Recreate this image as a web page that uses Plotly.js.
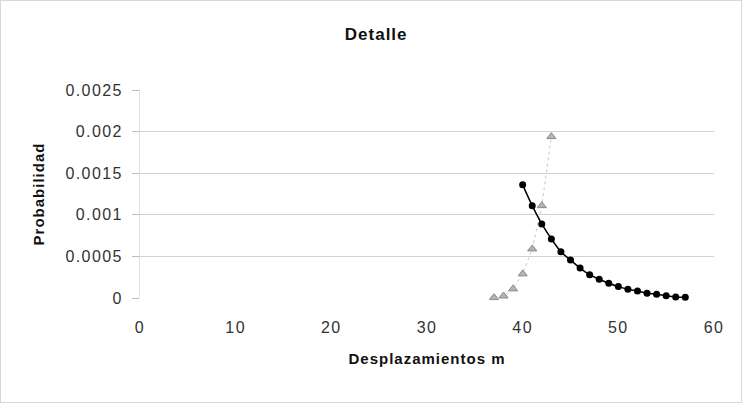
<!DOCTYPE html>
<html>
<head>
<meta charset="utf-8">
<script src="https://cdn.plot.ly/plotly-3.0.1.min.js"></script>
<style>
html,body{margin:0;padding:0;background:#fff;}
#chart{width:740px;height:401px;border:1px solid #d8d8d8;}
.xtick text, .ytick text{letter-spacing:1.4px;}
.gtitle, .xtitle, .ytitle{letter-spacing:1px;}
</style>
</head>
<body>
<div id="chart"></div>
<script>
// Triangle series (rising)
const triX = [37, 38, 39, 40, 41, 42, 43];
const triY = [0.000005, 0.000024, 0.00011, 0.00029, 0.00059, 0.00111, 0.00194];

// Circle series (decaying)
const circX = [40, 41, 42, 43, 44, 45, 46, 47, 48, 49, 50, 51, 52, 53, 54, 55, 56, 57];
const circY = [0.00136, 0.00111, 0.00089, 0.00071, 0.000556, 0.000456, 0.00036, 0.00028, 0.000226,
               0.000178, 0.000137, 0.000105, 0.000085, 0.000058, 0.000045, 0.000026, 0.000012, 0.000008];

const yTickVals = [0, 0.0005, 0.001, 0.0015, 0.002, 0.0025];
const yTickText = ["0", "0.0005", "0.001", "0.0015", "0.002", "0.0025"];
const xTickVals = [0, 10, 20, 30, 40, 50, 60];

const traces = [
  {
    x: triX, y: triY, type: 'scatter', mode: 'lines+markers',
    line: {color: '#c8c8c8', width: 1, dash: 'dot'},
    marker: {symbol: 'triangle-up', size: 8, color: '#b4b4b4', line: {color: '#8a8a8a', width: 1}},
    cliponaxis: false, showlegend: false
  },
  {
    x: circX, y: circY, type: 'scatter', mode: 'lines+markers',
    line: {color: '#000', width: 1.5, shape: 'spline'},
    marker: {symbol: 'circle', size: 7, color: '#000'},
    cliponaxis: false, showlegend: false
  }
];

const layout = {
  width: 740, height: 401,
  margin: {l: 139, r: 27, t: 89, b: 104},
  paper_bgcolor: '#fff', plot_bgcolor: '#fff',
  font: {family: 'Arial, Liberation Sans, sans-serif', color: '#222', size: 15},
  title: {text: '<b>Detalle</b>', x: 0.507, xanchor: 'center', y: 0.918, yanchor: 'middle',
          font: {size: 17, color: '#111'}},
  xaxis: {
    range: [0, 60], tickvals: xTickVals, showgrid: false, zeroline: false,
    showline: false, ticks: 'outside', ticklen: 15, tickcolor: 'rgba(0,0,0,0)',
    tickfont: {size: 16, color: '#333'},
    title: {text: '<b>Desplazamientos m</b>', standoff: 18, font: {size: 15, color: '#111'}}
  },
  yaxis: {
    range: [0, 0.0025], tickvals: yTickVals, ticktext: yTickText,
    showgrid: true, gridcolor: '#d2d2d2', gridwidth: 1, zeroline: false,
    showline: true, linecolor: '#e0e0e0', ticks: 'outside', ticklen: 7, tickcolor: '#bbb',
    ticklabelstandoff: 6,
    tickfont: {size: 16, color: '#333'},
    title: {text: '<b>Probabilidad</b>', standoff: 17, font: {size: 15, color: '#111'}}
  }
};

Plotly.newPlot('chart', traces, layout, {displayModeBar: false, staticPlot: true});
</script>
</body>
</html>
